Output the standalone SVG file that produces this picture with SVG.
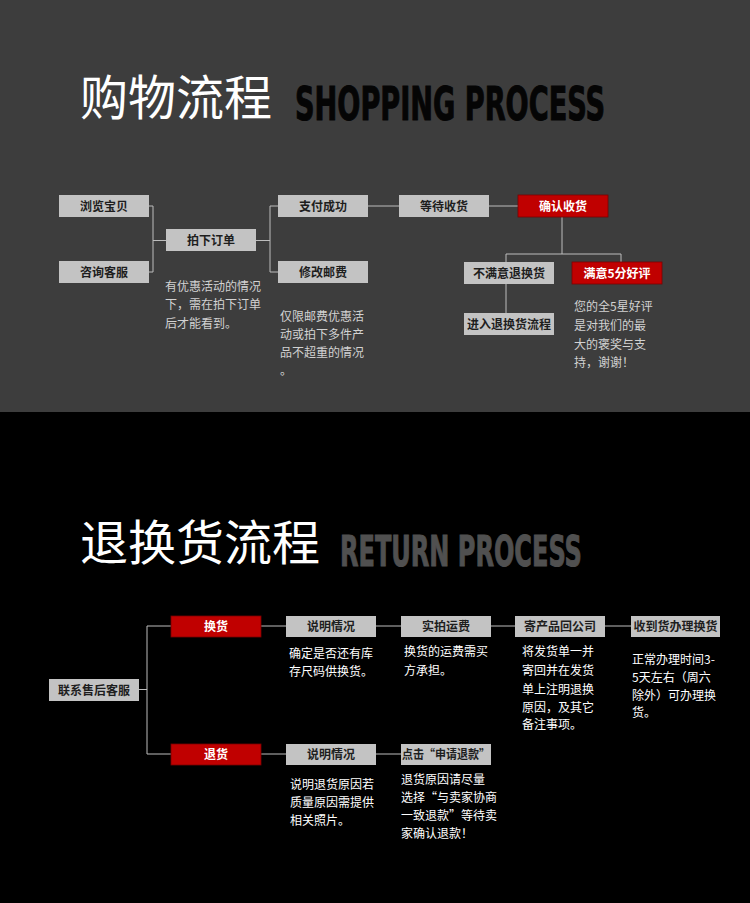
<svg xmlns="http://www.w3.org/2000/svg" width="750" height="903" viewBox="0 0 750 903">
<style>
.box{fill:#c3c3c3}
.red{fill:#c00000;stroke:#7a0000;stroke-width:0.8}
.lbl{font-family:"Noto Sans CJK SC","Liberation Sans",sans-serif;font-size:12px;font-weight:bold;fill:#1e1e1e;text-anchor:middle}
.lblw{font-family:"Noto Sans CJK SC","Liberation Sans",sans-serif;font-size:12px;font-weight:bold;fill:#ffffff;text-anchor:middle}
.note{font-family:"Noto Sans CJK SC","Liberation Sans",sans-serif;font-size:12px;fill:#d2d2d2}
.notew{font-family:"Noto Sans CJK SC","Liberation Sans",sans-serif;font-size:12px;fill:#ffffff}
.ln{fill:none;stroke:#bdbdbd;stroke-width:1}
.title{font-family:"Noto Sans CJK SC","Liberation Sans",sans-serif;font-size:48px;fill:#ffffff}
.en{font-family:"DejaVu Sans Condensed","Liberation Sans Narrow","Liberation Sans",sans-serif;font-weight:bold}
</style>
<rect x="0" y="0" width="750" height="412" fill="#3d3d3d"/>
<rect x="0" y="412" width="750" height="491" fill="#000000"/>

<g id="title-shopping">
<text class="title" x="80" y="115">购物流程</text>
<text class="en" transform="translate(295,120) scale(0.654,1)" x="0" y="0" font-size="46" fill="#050505" stroke="#050505" stroke-width="1" textLength="474" lengthAdjust="spacingAndGlyphs">SHOPPING PROCESS</text>
</g>
<g id="title-return">
<text class="title" x="80" y="560">退换货流程</text>
<text class="en" transform="translate(340,566) scale(0.62,1)" x="0" y="0" font-size="43" fill="#505050" stroke="#505050" stroke-width="1" textLength="390" lengthAdjust="spacingAndGlyphs">RETURN PROCESS</text>
</g>

<g id="connectors">
<path class="ln" d="M149 206H153V272H149M153 240.5H166"/>
<path class="ln" d="M256 240.5H270M278 206H270V272H278"/>
<path class="ln" d="M368 206H399M489 206H518"/>
<path class="ln" d="M562 217V254M506 254H621M506 254V262M621 254V262M506 284V313"/>
<path class="ln" d="M139 689.5H147M171 626H147V754H171"/>
<path class="ln" d="M261 626H286M376 626H401M491 626H515M605 626H631"/>
<path class="ln" d="M261 754H286M376 754H401"/>
</g>

<g id="n-browse"><rect class="box" x="59" y="195" width="90" height="22"/><text class="lbl" x="104" y="210.5">浏览宝贝</text></g>
<g id="n-consult"><rect class="box" x="59" y="261" width="90" height="22"/><text class="lbl" x="104" y="276.5">咨询客服</text></g>
<g id="n-order"><rect class="box" x="166" y="229" width="90" height="22"/><text class="lbl" x="211" y="244.5">拍下订单</text></g>
<g id="n-paid"><rect class="box" x="278" y="195" width="90" height="22"/><text class="lbl" x="323" y="210.5">支付成功</text></g>
<g id="n-postage"><rect class="box" x="278" y="261" width="90" height="22"/><text class="lbl" x="323" y="276.5">修改邮费</text></g>
<g id="n-wait"><rect class="box" x="399" y="195" width="90" height="22"/><text class="lbl" x="444" y="210.5">等待收货</text></g>
<g id="n-confirm"><rect class="red" x="518" y="195" width="90" height="22"/><text class="lblw" x="563" y="210.5">确认收货</text></g>
<g id="n-unsatisfied"><rect class="box" x="464" y="262" width="90" height="22"/><text class="lbl" x="509" y="277.5">不满意退换货</text></g>
<g id="n-satisfied"><rect class="red" x="572" y="262" width="90" height="22"/><text class="lblw" x="617" y="277.5">满意5分好评</text></g>
<g id="n-enter-return"><rect class="box" x="464" y="313" width="90" height="22"/><text class="lbl" x="509" y="328.5">进入退换货流程</text></g>

<g id="note-order">
<text class="note" x="165" y="291">有优惠活动的情况</text>
<text class="note" x="165" y="309">下，需在拍下订单</text>
<text class="note" x="165" y="327.5">后才能看到。</text>
</g>
<g id="note-postage">
<text class="note" x="280" y="320.5">仅限邮费优惠活</text>
<text class="note" x="280" y="339">动或拍下多件产</text>
<text class="note" x="280" y="357">品不超重的情况</text>
<text class="note" x="280" y="375">。</text>
</g>
<g id="note-satisfied">
<text class="note" x="574" y="311">您的全5星好评</text>
<text class="note" x="574" y="330">是对我们的最</text>
<text class="note" x="574" y="348.5">大的褒奖与支</text>
<text class="note" x="574" y="366.5">持，谢谢！</text>
</g>

<g id="n-contact"><rect class="box" x="49" y="679" width="90" height="22"/><text class="lbl" x="94" y="694.5">联系售后客服</text></g>
<g id="n-exchange"><rect class="red" x="171" y="616" width="90" height="21"/><text class="lblw" x="216" y="631">换货</text></g>
<g id="n-explain1"><rect class="box" x="286" y="616" width="90" height="21"/><text class="lbl" x="331" y="631">说明情况</text></g>
<g id="n-photo"><rect class="box" x="401" y="616" width="90" height="21"/><text class="lbl" x="446" y="631">实拍运费</text></g>
<g id="n-send"><rect class="box" x="515" y="616" width="90" height="21"/><text class="lbl" x="560" y="631">寄产品回公司</text></g>
<g id="n-received"><rect class="box" x="631" y="616" width="89" height="21"/><text class="lbl" x="675.5" y="631">收到货办理换货</text></g>
<g id="n-return"><rect class="red" x="171" y="744" width="90" height="21"/><text class="lblw" x="216" y="759">退货</text></g>
<g id="n-explain2"><rect class="box" x="286" y="744" width="90" height="21"/><text class="lbl" x="331" y="759">说明情况</text></g>
<g id="n-apply"><rect class="box" x="401" y="744" width="90" height="21"/><text class="lbl" x="446" y="759" textLength="88" lengthAdjust="spacingAndGlyphs">点击“申请退款”</text></g>

<g id="note-stock">
<text class="notew" x="289" y="657.5">确定是否还有库</text>
<text class="notew" x="289" y="676">存尺码供换货。</text>
</g>
<g id="note-fee">
<text class="notew" x="404" y="656">换货的运费需买</text>
<text class="notew" x="404" y="674.5">方承担。</text>
</g>
<g id="note-send">
<text class="notew" x="522" y="656">将发货单一并</text>
<text class="notew" x="522" y="675">寄回并在发货</text>
<text class="notew" x="522" y="693.5">单上注明退换</text>
<text class="notew" x="522" y="712">原因，及其它</text>
<text class="notew" x="522" y="729">备注事项。</text>
</g>
<g id="note-received">
<text class="notew" x="632" y="664">正常办理时间3-</text>
<text class="notew" x="632" y="681.5">5天左右（周六</text>
<text class="notew" x="632" y="700">除外）可办理换</text>
<text class="notew" x="632" y="716.5">货。</text>
</g>
<g id="note-return">
<text class="notew" x="290" y="788.5">说明退货原因若</text>
<text class="notew" x="290" y="806.5">质量原因需提供</text>
<text class="notew" x="290" y="824.5">相关照片。</text>
</g>
<g id="note-apply">
<text class="notew" x="401" y="783.5">退货原因请尽量</text>
<text class="notew" x="401" y="801.5">选择“与卖家协商</text>
<text class="notew" x="401" y="819.5">一致退款”等待卖</text>
<text class="notew" x="401" y="837.5">家确认退款！</text>
</g>
</svg>
